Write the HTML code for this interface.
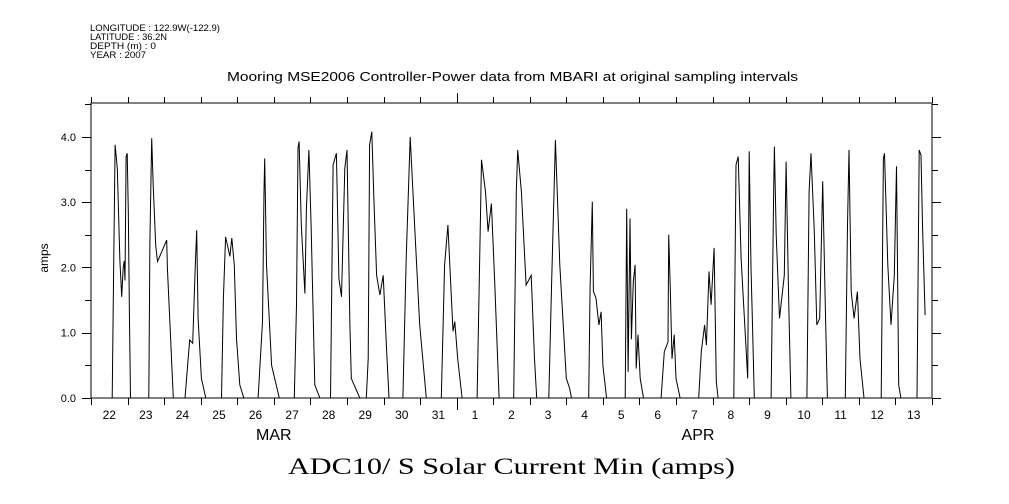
<!DOCTYPE html>
<html><head><meta charset="utf-8">
<style>
html,body{margin:0;padding:0;background:#fff;}
svg{display:block;}
text{font-family:"Liberation Sans",sans-serif;fill:#000;}
</style></head>
<body>
<svg id="chart" width="1009" height="504" viewBox="0 0 1009 504" xmlns="http://www.w3.org/2000/svg">
<g font-size="9">
<text x="90" y="31" textLength="130" lengthAdjust="spacingAndGlyphs">LONGITUDE : 122.9W(-122.9)</text>
<text x="90" y="40" textLength="77" lengthAdjust="spacingAndGlyphs">LATITUDE : 36.2N</text>
<text x="90" y="49" textLength="66" lengthAdjust="spacingAndGlyphs">DEPTH (m) : 0</text>
<text x="90" y="58" textLength="56" lengthAdjust="spacingAndGlyphs">YEAR : 2007</text>
</g>
<text x="227" y="81" font-size="13" textLength="571" lengthAdjust="spacingAndGlyphs">Mooring MSE2006 Controller-Power data from MBARI at original sampling intervals</text>
<text x="288" y="474" font-size="23" textLength="447" lengthAdjust="spacingAndGlyphs" style="font-family:'Liberation Serif',serif">ADC10/ S Solar Current Min (amps)</text>
<text transform="translate(48,258) rotate(-90)" font-size="12" text-anchor="middle">amps</text>
<g id="axes"></g>
<g id="ticks"></g>
<path id="series" fill="none" stroke="#000" stroke-width="1"/>
</svg>
<script>
const dayLabels = ["22","23","24","25","26","27","28","29","30","31","1","2","3","4","5","6","7","8","9","10","11","12","13"];
const monthLabels = [{label:"MAR", day:5.0},{label:"APR", day:16.6}];
const yTicks = [0,1,2,3,4];
const yTickLabels = ["0.0","1.0","2.0","3.0","4.0"];
// time in days since 22 Mar 00:00
const times = [
0.58,0.61,0.66,0.72,0.79,0.84,0.88,0.91,0.93,0.96,0.99,1.02,1.05,1.08,
1.58,1.61,1.66,1.70,1.77,1.82,2.07,2.09,2.16,2.25,
2.57,2.70,2.78,2.85,2.89,2.93,3.02,3.14,
3.57,3.62,3.68,3.80,3.85,3.92,3.98,4.07,4.18,
4.57,4.69,4.73,4.75,4.80,4.94,5.15,
5.56,5.62,5.66,5.69,5.75,5.85,5.89,5.96,6.02,6.12,6.26,
6.55,6.62,6.71,6.78,6.85,6.94,7.00,7.08,7.12,7.35,
7.53,7.58,7.62,7.68,7.74,7.81,7.90,7.99,8.08,8.15,
8.53,8.62,8.73,8.85,8.99,9.17,
9.58,9.67,9.76,9.90,9.95,10.03,10.15,
10.56,10.63,10.68,10.79,10.86,10.95,11.04,11.16,
11.56,11.63,11.67,11.77,11.90,12.04,12.13,12.19,
12.52,12.59,12.70,12.82,13.00,13.09,13.14,
13.61,13.65,13.71,13.74,13.81,13.89,13.95,14.00,14.10,
14.61,14.65,14.69,14.74,14.78,14.83,14.88,14.91,14.96,15.02,15.11,
15.59,15.68,15.78,15.80,15.84,15.89,15.95,16.00,16.11,
16.62,16.69,16.78,16.83,16.90,16.96,17.04,17.10,17.15,
17.58,17.64,17.70,17.78,17.87,17.96,18.00,18.05,18.09,18.14,
18.60,18.67,18.69,18.74,18.83,18.96,19.01,19.08,19.14,
19.58,19.64,19.69,19.78,19.85,19.93,20.01,20.08,20.14,
20.63,20.69,20.73,20.79,20.87,20.96,21.03,21.14,
21.61,21.67,21.70,21.79,21.88,21.97,22.03,22.09,22.15,
22.59,22.65,22.70,22.74,22.81
];
const amps = [
0,1.52,3.88,3.52,2.10,1.55,2.00,2.10,1.80,3.70,3.75,2.87,1.30,0,
0,2.40,3.98,3.26,2.34,2.09,2.42,1.99,1.12,0,
0,0.89,0.84,2.00,2.57,1.22,0.30,0,
0,1.53,2.47,2.17,2.45,2.04,0.91,0.20,0,
0,1.17,3.16,3.67,2.04,0.50,0,
0,1.43,3.83,3.93,2.65,1.60,2.90,3.80,2.65,0.20,0,
0,3.57,3.75,1.83,1.55,3.52,3.80,1.12,0.30,0,
0,0.60,3.88,4.08,3.00,1.88,1.58,1.88,0.80,0,
0,2.14,4.00,2.65,1.12,0,
0,2.04,2.65,1.02,1.17,0.60,0,
0,2.14,3.65,3.16,2.55,2.98,1.78,0,
0,3.16,3.80,3.16,1.73,1.88,0.60,0,
0,1.63,3.95,2.04,0.30,0.15,0,
0,1.70,3.01,1.63,1.53,1.12,1.32,0.50,0,
0,2.90,0.40,2.75,0.90,1.78,2.04,0.45,0.97,0.30,0,
0,0.71,0.86,2.50,1.73,0.60,0.97,0.30,0,
0,0.71,1.12,0.81,1.94,1.43,2.30,0.25,0,
0,3.57,3.70,2.14,1.22,0.30,3.78,2.00,1.12,0,
0,3.21,3.85,2.50,1.22,1.88,3.62,1.48,0,
0,3.16,3.75,2.55,1.12,1.22,3.32,1.48,0,
0,2.65,3.80,1.63,1.22,1.63,0.60,0,
0,3.67,3.75,2.04,1.12,1.88,3.55,0.20,0,
0,3.80,3.72,2.65,1.27
];
const X0=91, X1=932, Y0=398, Y1=103, NDAYS=23, YMAX=4.52;
function xs(t){return X0+(X1-X0)*t/NDAYS;}
function ys(v){return Y0-(Y0-Y1)*v/YMAX;}
const NS="http://www.w3.org/2000/svg";
function mk(tag,attrs,parent){const e=document.createElementNS(NS,tag);for(const k in attrs)e.setAttribute(k,attrs[k]);parent.appendChild(e);return e;}
const axes=document.getElementById('axes'), ticks=document.getElementById('ticks');
const frame=mk('rect',{x:X0,y:Y1,width:X1-X0,height:Y0-Y1,fill:'none',stroke:'#000','stroke-width':1},axes);


for(let d=0; d<=NDAYS; d++){
  const x=Math.round(xs(d))+0.5, big=(d===10);
  const tb=mk('line',{x1:x,x2:x,y1:Y0,y2:Y0+(big?12:7),stroke:'#000'},ticks);
  
  
  const tt=mk('line',{x1:x,x2:x,y1:Y1,y2:Y1-(big?10:6),stroke:'#000'},ticks);
  
  
}
dayLabels.forEach((lab,i)=>{
  const t=mk('text',{x:xs(i+0.5),y:419,'font-size':12,'text-anchor':'middle'},ticks);
  t.textContent=lab;
  
  
});
monthLabels.forEach(m=>{
  const t=mk('text',{x:xs(m.day),y:440,'font-size':16,'text-anchor':'middle'},ticks);
  t.textContent=m.label;
  
  
});
for(let v=0; v<=4.5; v+=0.5){
  const y=Math.round(ys(v))+0.5, major=(Math.abs(v-Math.round(v))<1e-6);
  const l=mk('line',{x1:X0-(major?9:6),x2:X0,y1:y,y2:y,stroke:'#000'},ticks);
  
  
  const r=mk('line',{x1:X1,x2:X1+(major?9:6),y1:y,y2:y,stroke:'#000'},ticks);
  
  
}
yTicks.forEach((v,i)=>{
  const t=mk('text',{x:76,y:ys(v)+4,'font-size':11,'text-anchor':'end'},ticks);
  t.textContent=yTickLabels[i];
  
  
});
let d='';
times.forEach((t,i)=>{
  const prevGap = i>0 && t-times[i-1]>0.3;
  d += (i===0||prevGap?'M':'L')+xs(t).toFixed(1)+','+ys(amps[i]).toFixed(1)+' ';
});
document.getElementById('series').setAttribute('d',d);
</script>
</body></html>
